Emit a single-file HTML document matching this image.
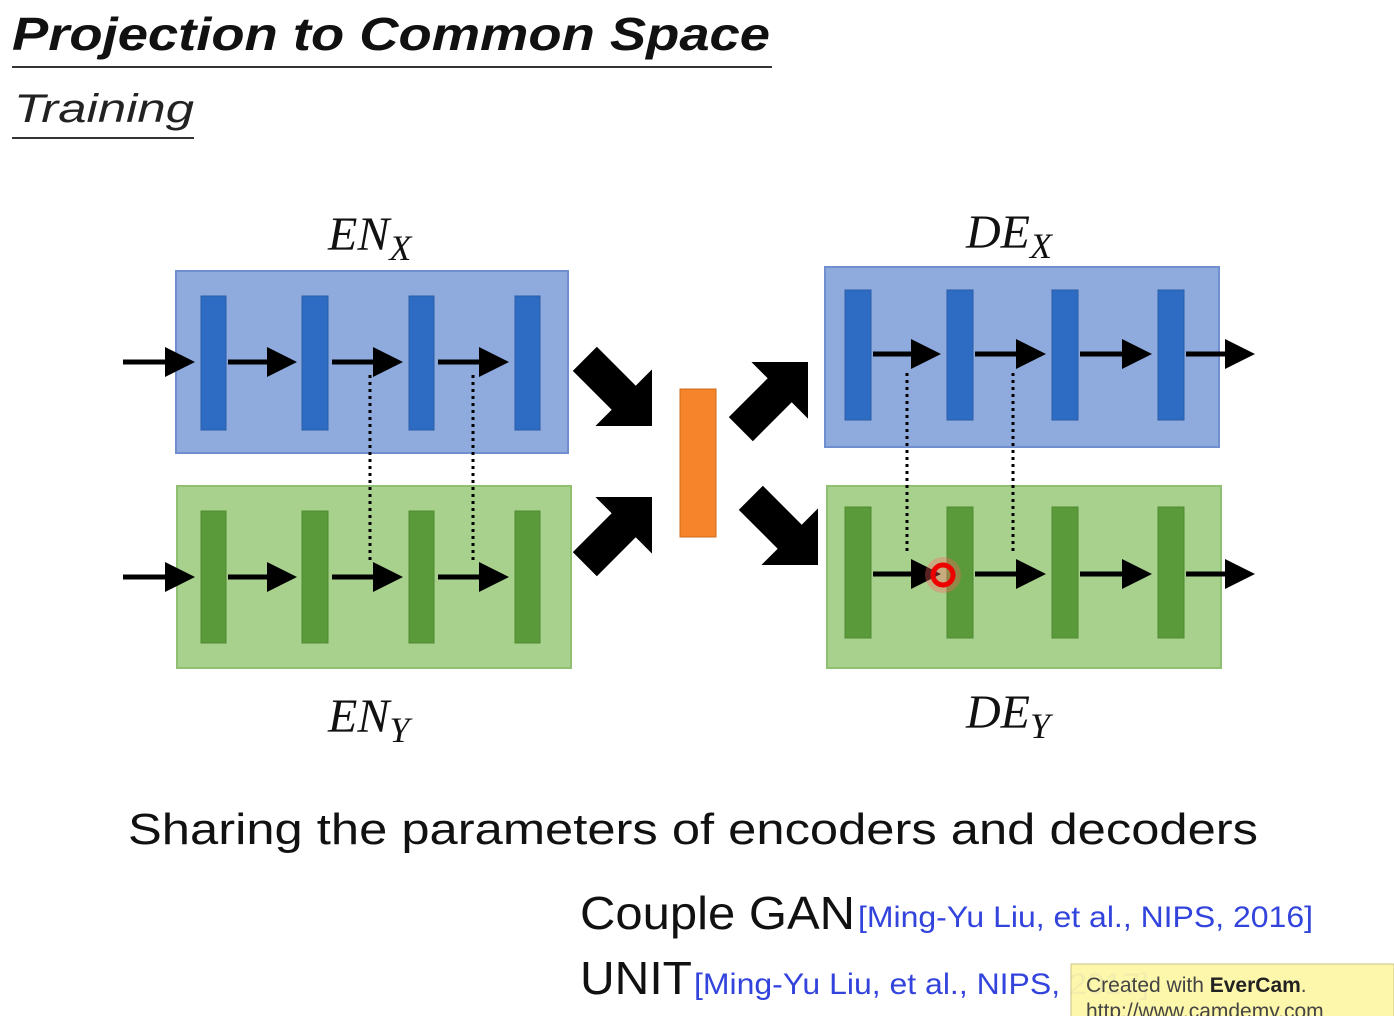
<!DOCTYPE html>
<html><head><style>
body{margin:0;width:1394px;height:1016px;overflow:hidden;background:#fff;font-family:"Liberation Sans",sans-serif;}
</style></head><body>
<svg width="1394" height="1016" xmlns="http://www.w3.org/2000/svg">
<defs>
<marker id="ah" markerWidth="6" markerHeight="6" refX="5" refY="3" orient="auto" markerUnits="strokeWidth"><path d="M0,0 L6,3 L0,6 z" fill="#000"/></marker>
</defs>
<text x="12" y="50" font-size="46" font-weight="bold" font-style="italic" fill="#111" textLength="758" lengthAdjust="spacingAndGlyphs">Projection to Common Space</text>
<line x1="12" y1="67" x2="772" y2="67" stroke="#333" stroke-width="2"/>
<text x="14" y="122" font-size="40" font-style="italic" fill="#222" textLength="180" lengthAdjust="spacingAndGlyphs">Training</text>
<line x1="12" y1="138" x2="194" y2="138" stroke="#333" stroke-width="2"/>

<rect x="176" y="271" width="392" height="182" fill="#8faadc" stroke="#6f8fcf" stroke-width="2"/>
<rect x="177" y="486" width="394" height="182" fill="#a9d18e" stroke="#8fbf70" stroke-width="2"/>
<rect x="825" y="267" width="394" height="180" fill="#8faadc" stroke="#6f8fcf" stroke-width="2"/>
<rect x="827" y="486" width="394" height="182" fill="#a9d18e" stroke="#8fbf70" stroke-width="2"/>

<g fill="#2e6cc4" stroke="#2a5ca8" stroke-width="1">
<rect x="201" y="296" width="25" height="134"/><rect x="302" y="296" width="26" height="134"/><rect x="409" y="296" width="25" height="134"/><rect x="515" y="296" width="25" height="134"/>
<rect x="845" y="290" width="26" height="130"/><rect x="947" y="290" width="26" height="130"/><rect x="1052" y="290" width="26" height="130"/><rect x="1158" y="290" width="26" height="130"/>
</g>
<g fill="#5b9a3a" stroke="#4e8a30" stroke-width="1">
<rect x="201" y="511" width="25" height="132"/><rect x="302" y="511" width="26" height="132"/><rect x="409" y="511" width="25" height="132"/><rect x="515" y="511" width="25" height="132"/>
<rect x="845" y="507" width="26" height="131"/><rect x="947" y="507" width="26" height="131"/><rect x="1052" y="507" width="26" height="131"/><rect x="1158" y="507" width="26" height="131"/>
</g>
<g stroke="#000" stroke-width="5" marker-end="url(#ah)">
<line x1="123" y1="362" x2="190" y2="362"/><line x1="228" y1="362" x2="292" y2="362"/><line x1="332" y1="362" x2="398" y2="362"/><line x1="438" y1="362" x2="504" y2="362"/>
<line x1="123" y1="577" x2="190" y2="577"/><line x1="228" y1="577" x2="292" y2="577"/><line x1="332" y1="577" x2="398" y2="577"/><line x1="438" y1="577" x2="504" y2="577"/>
<line x1="873" y1="354" x2="936" y2="354"/><line x1="975" y1="354" x2="1041" y2="354"/><line x1="1080" y1="354" x2="1147" y2="354"/><line x1="1186" y1="354" x2="1250" y2="354"/>
<line x1="873" y1="574" x2="936" y2="574"/><line x1="975" y1="574" x2="1041" y2="574"/><line x1="1080" y1="574" x2="1147" y2="574"/><line x1="1186" y1="574" x2="1250" y2="574"/>
</g>
<g stroke="#000" stroke-width="3" stroke-dasharray="3,4">
<line x1="370" y1="375" x2="370" y2="560"/><line x1="473" y1="375" x2="473" y2="560"/>
<line x1="907" y1="373" x2="907" y2="555"/><line x1="1013" y1="373" x2="1013" y2="555"/>
</g>
<circle cx="943" cy="575" r="18" fill="#ff6060" opacity="0.35"/>
<circle cx="943" cy="575" r="10" fill="none" stroke="#e00" stroke-width="5"/>

<rect x="680" y="389" width="36" height="148" fill="#f5842a" stroke="#d06a1a"/>
<g fill="#000">
<polygon transform="translate(652,426) rotate(45)" points="-95,-17 -40,-17 -40,-40 0,0 -40,40 -40,17 -95,17"/>
<polygon transform="translate(808,362) rotate(-45)" points="-95,-17 -40,-17 -40,-40 0,0 -40,40 -40,17 -95,17"/>
<polygon transform="translate(652,497) rotate(-45)" points="-95,-17 -40,-17 -40,-40 0,0 -40,40 -40,17 -95,17"/>
<polygon transform="translate(818,565) rotate(45)" points="-95,-17 -40,-17 -40,-40 0,0 -40,40 -40,17 -95,17"/>
</g>

<g font-family="Liberation Serif,serif" font-style="italic" font-size="48" fill="#111">
<text x="328" y="250">EN<tspan font-size="36" dy="10">X</tspan></text>
<text x="328" y="732">EN<tspan font-size="36" dy="10">Y</tspan></text>
<text x="966" y="248">DE<tspan font-size="36" dy="10">X</tspan></text>
<text x="966" y="728">DE<tspan font-size="36" dy="10">Y</tspan></text>
</g>
<text x="128" y="844" font-size="44" fill="#111" textLength="1130" lengthAdjust="spacingAndGlyphs">Sharing the parameters of encoders and decoders</text>
<text x="580" y="929" font-size="46" fill="#111" textLength="275" lengthAdjust="spacingAndGlyphs">Couple GAN</text>
<text x="858" y="927" font-size="30" fill="#3344dd" textLength="455" lengthAdjust="spacingAndGlyphs">[Ming-Yu Liu, et al., NIPS, 2016]</text>
<text x="580" y="994" font-size="46" fill="#111" textLength="112" lengthAdjust="spacingAndGlyphs">UNIT</text>
<text x="694" y="994" font-size="30" fill="#3344dd" textLength="455" lengthAdjust="spacingAndGlyphs">[Ming-Yu Liu, et al., NIPS, 2017]</text>
<rect x="1071" y="964" width="323" height="60" fill="#fdf7a8" stroke="#c8c080" opacity="0.95"/>
<text x="1086" y="992" font-size="21" fill="#444">Created with <tspan font-weight="bold" fill="#222">EverCam</tspan>.</text>
<text x="1086" y="1018" font-size="21" fill="#444">http://www.camdemy.com</text>
</svg>
</body></html>
